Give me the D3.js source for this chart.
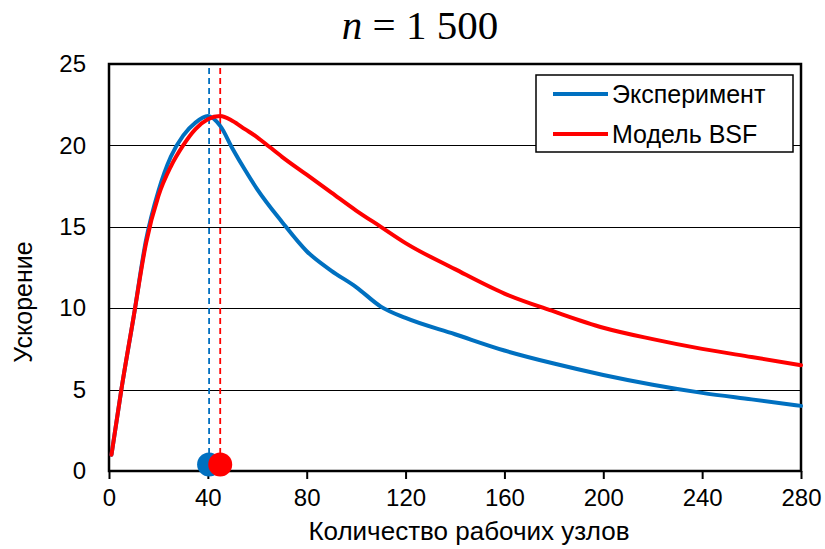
<!DOCTYPE html>
<html>
<head>
<meta charset="utf-8">
<script src="https://cdn.jsdelivr.net/npm/d3@7"></script>
<style>
  body { margin: 0; background: #fff; }
  svg { display: block; }
</style>
</head>
<body>
<script>
// Data
const xsExp = [1, 5, 10, 15, 20, 25, 30, 35, 40, 45, 50, 55, 60, 70, 80, 90, 100, 110, 120, 140, 160, 180, 200, 220, 240, 260, 280]
const expValues = [1, 5, 9.5, 14.2, 17.2, 19.3, 20.6, 21.4, 21.8, 21.2, 19.8, 18.5, 17.3, 15.3, 13.5, 12.3, 11.3, 10.1, 9.4, 8.4, 7.4, 6.6, 5.9, 5.3, 4.8, 4.4, 4.0]
const xsModel = [1, 5, 10, 15, 20, 25, 30, 35, 40, 45, 50, 55, 60, 65, 70, 80, 90, 100, 110, 120, 140, 160, 180, 200, 220, 240, 260, 280]
const modelValues = [1, 5, 9.5, 14, 16.9, 18.7, 20, 21, 21.6, 21.8, 21.5, 21, 20.5, 19.9, 19.3, 18.2, 17.1, 16, 15, 14, 12.4, 10.9, 9.8, 8.8, 8.1, 7.5, 7.0, 6.5]
const peaks = [{ name: 'Эксперимент', x: 40.5 }, { name: 'Модель BSF', x: 45 }]
const xTicks = [0, 40, 80, 120, 160, 200, 240, 280]
const yTicks = [0, 5, 10, 15, 20, 25]
const seriesNames = ['Эксперимент', 'Модель BSF']
const colors = ['#0070c0', '#ff0000']

const W = 825, H = 549
const margin = { top: 64, right: 24, bottom: 78, left: 109 }
const width = W - margin.left - margin.right
const height = H - margin.top - margin.bottom
const sans = '"Liberation Sans", Arial, sans-serif'

const svg = d3.select('body').append('svg')
    .attr('width', W)
    .attr('height', H)

const g = svg.append('g').attr('transform', `translate(${margin.left},${margin.top})`)

const x = d3.scaleLinear().domain([0, 280]).range([0, width])
const y = d3.scaleLinear().domain([0, 25]).range([height, 0])

// gridlines
g.selectAll('.grid')
    .data(yTicks.filter(d => d > 0 && d < 25))
    .enter().append('line')
        .attr('x1', 0).attr('x2', width)
        .attr('y1', d => Math.round(y(d)) + 0.5).attr('y2', d => Math.round(y(d)) + 0.5)
        .attr('stroke', '#000').attr('stroke-width', 1)

// x axis
const xAxis = g.append('g')
    .attr('transform', `translate(0,${height})`)
    .call(d3.axisBottom(x).tickValues(xTicks).tickSize(8).tickSizeOuter(0))
xAxis.select('.domain').remove()
xAxis.selectAll('line').attr('stroke', '#000').attr('stroke-width', 2)
xAxis.selectAll('text')
    .attr('font-family', sans)
    .attr('font-size', 24)
    .attr('fill', '#000')
    .attr('dy', '1.02em')

// y axis labels
const yAxis = g.append('g')
    .call(d3.axisLeft(y).tickValues(yTicks).tickSize(0))
yAxis.select('.domain').remove()
yAxis.selectAll('text')
    .attr('font-family', sans)
    .attr('font-size', 24)
    .attr('fill', '#000')
    .attr('x', -23)

// frame
g.append('rect')
    .attr('width', width).attr('height', height)
    .attr('fill', 'none').attr('stroke', '#000').attr('stroke-width', 2.5)

// curves
const line = d3.line()
    .x(d => x(d[0]))
    .y(d => y(d[1]))
    .curve(d3.curveMonotoneX)

const seriesData = [
    d3.zip(xsExp, expValues),
    d3.zip(xsModel, modelValues)
]

// dashed peak lines
g.selectAll('.peak')
    .data(peaks)
    .enter().append('line')
        .attr('x1', d => x(d.x)).attr('x2', d => x(d.x))
        .attr('y1', 4).attr('y2', y(0.4))
        .attr('stroke', (d, i) => colors[i])
        .attr('stroke-width', 1.8)
        .attr('stroke-dasharray', '6,4')

g.selectAll('.series')
    .data(seriesData)
    .enter().append('path')
        .attr('d', line)
        .attr('fill', 'none')
        .attr('stroke', (d, i) => colors[i])
        .attr('stroke-width', 4)
        .attr('stroke-linejoin', 'round')
        .attr('stroke-linecap', 'round')

g.selectAll('.dot')
    .data(peaks)
    .enter().append('circle')
        .attr('cx', d => x(d.x))
        .attr('cy', y(0.4))
        .attr('r', 12)
        .attr('fill', (d, i) => colors[i])

// legend
const lg = svg.append('g').attr('transform', 'translate(536,75)')
lg.append('rect')
    .attr('width', 257).attr('height', 77)
    .attr('fill', '#fff').attr('stroke', '#000').attr('stroke-width', 1.5)
seriesNames.forEach((name, i) => {
    const yy = 19 + i * 40
    lg.append('line')
        .attr('x1', 17).attr('x2', 72)
        .attr('y1', yy).attr('y2', yy)
        .attr('stroke', colors[i]).attr('stroke-width', 4)
    lg.append('text')
        .attr('x', 76).attr('y', yy + 9)
        .attr('font-family', sans)
        .attr('font-size', 25)
        .text(name)
})

// title
const title = svg.append('text')
    .attr('x', 420).attr('y', 39)
    .attr('text-anchor', 'middle')
    .attr('font-family', '"Liberation Serif", "Times New Roman", serif')
    .attr('font-size', 41)
title.append('tspan').attr('font-style', 'italic').text('n')
title.append('tspan').text(' = 1 500')

// axis titles
svg.append('text')
    .attr('x', 469).attr('y', 540)
    .attr('text-anchor', 'middle')
    .attr('font-family', sans)
    .attr('font-size', 26)
    .text('Количество рабочих узлов')

svg.append('text')
    .attr('transform', 'translate(32,302) rotate(-90)')
    .attr('text-anchor', 'middle')
    .attr('font-family', sans)
    .attr('font-size', 25)
    .text('Ускорение')
</script>
</body>
</html>
